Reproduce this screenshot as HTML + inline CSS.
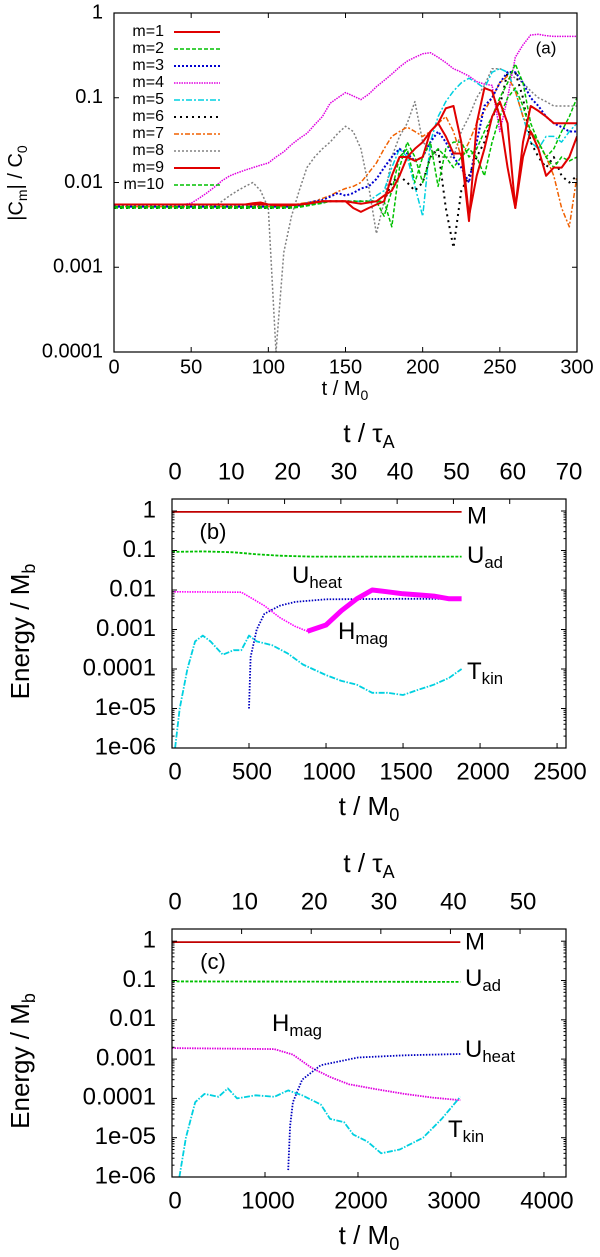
<!DOCTYPE html>
<html><head><meta charset="utf-8">
<style>
html,body{margin:0;padding:0;background:#fff;}
svg{display:block;font-family:"Liberation Sans",sans-serif;}
</style></head>
<body>
<svg id="fig" width="600" height="1257" viewBox="0 0 600 1257" xmlns="http://www.w3.org/2000/svg"></svg>
<script>
// ---------- Panel (a) data ----------
const tA = [];for(let i=0;i<=60;i++){tA.push(i*5);}
const m1 = [0.0055,0.0055,0.0055,0.0055,0.0055,0.0055,0.0055,0.0055,0.0055,0.0055,0.0055,0.0055,0.0055,0.0055,0.0055,0.0055,0.0055,0.0055,0.0057,0.0058,0.0055,0.0054,0.0054,0.0054,0.0055,0.0056,0.0058,0.006,0.006,0.006,0.006,0.005,0.0045,0.005,0.0055,0.006,0.012,0.02,0.02,0.018,0.02,0.04,0.05,0.035,0.022,0.022,0.0035,0.05,0.13,0.12,0.06,0.015,0.005,0.03,0.08,0.07,0.06,0.05,0.05,0.05,0.05];
const m2 = [0.0052,0.0052,0.0052,0.0052,0.0052,0.0052,0.0052,0.0052,0.0052,0.0052,0.0052,0.0052,0.0052,0.0052,0.0052,0.0052,0.0052,0.0052,0.0052,0.0052,0.0052,0.0052,0.0052,0.0052,0.0052,0.0054,0.0056,0.0058,0.006,0.006,0.006,0.006,0.006,0.006,0.006,0.004,0.008,0.02,0.025,0.01,0.02,0.03,0.009,0.025,0.03,0.03,0.02,0.025,0.04,0.06,0.1,0.15,0.25,0.15,0.05,0.03,0.02,0.025,0.04,0.06,0.1];
const m3 = [0.0052,0.0052,0.0052,0.0052,0.0052,0.0052,0.0052,0.0052,0.0052,0.0052,0.0052,0.0052,0.0052,0.0052,0.0052,0.0052,0.0052,0.0052,0.0052,0.0052,0.0052,0.0052,0.0052,0.0052,0.0054,0.0057,0.006,0.0062,0.0068,0.0075,0.007,0.0075,0.0085,0.009,0.011,0.015,0.02,0.025,0.022,0.018,0.02,0.03,0.04,0.03,0.02,0.015,0.01,0.03,0.08,0.1,0.15,0.2,0.2,0.15,0.1,0.08,0.06,0.05,0.045,0.04,0.04];
const m4 = [0.0055,0.0055,0.0055,0.0055,0.0055,0.0055,0.0055,0.0055,0.0055,0.0055,0.0057,0.0065,0.0075,0.0088,0.0105,0.012,0.013,0.014,0.015,0.016,0.017,0.02,0.023,0.028,0.033,0.038,0.048,0.06,0.086,0.1,0.115,0.105,0.095,0.11,0.135,0.16,0.19,0.23,0.27,0.3,0.33,0.34,0.3,0.26,0.22,0.2,0.18,0.155,0.145,0.14,0.04,0.1,0.3,0.42,0.55,0.56,0.54,0.53,0.53,0.53,0.53];
const m5 = [0.0052,0.0052,0.0052,0.0052,0.0052,0.0052,0.0052,0.0052,0.0052,0.0052,0.0052,0.0052,0.0052,0.0052,0.0052,0.0052,0.0052,0.0052,0.0052,0.0052,0.0052,0.0052,0.0052,0.0052,0.0053,0.0055,0.0057,0.0058,0.006,0.006,0.006,0.006,0.006,0.006,0.007,0.008,0.015,0.025,0.02,0.009,0.004,0.03,0.06,0.09,0.12,0.15,0.17,0.15,0.13,0.2,0.22,0.2,0.12,0.06,0.03,0.025,0.035,0.035,0.03,0.04,0.05];
const m6 = [0.005,0.005,0.005,0.005,0.005,0.005,0.005,0.005,0.005,0.005,0.005,0.005,0.005,0.005,0.005,0.005,0.005,0.005,0.005,0.005,0.005,0.005,0.005,0.005,0.0052,0.0054,0.0056,0.0058,0.006,0.006,0.006,0.006,0.006,0.006,0.006,0.006,0.01,0.012,0.01,0.008,0.01,0.02,0.025,0.005,0.0017,0.008,0.012,0.02,0.03,0.06,0.08,0.2,0.2,0.1,0.03,0.02,0.015,0.02,0.012,0.01,0.012];
const m7 = [0.0052,0.0052,0.0052,0.0052,0.0052,0.0052,0.0052,0.0052,0.0052,0.0052,0.0052,0.0052,0.0052,0.0052,0.0052,0.0052,0.0052,0.0052,0.0052,0.0052,0.0052,0.0052,0.0052,0.0054,0.0056,0.0058,0.006,0.0065,0.007,0.0078,0.0085,0.009,0.01,0.013,0.017,0.025,0.035,0.04,0.045,0.04,0.035,0.04,0.05,0.06,0.04,0.02,0.03,0.05,0.07,0.1,0.15,0.18,0.12,0.06,0.04,0.03,0.02,0.012,0.005,0.003,0.012];
const m8 = [0.0052,0.0052,0.0052,0.0052,0.0052,0.0052,0.0052,0.0052,0.0052,0.0052,0.0052,0.0052,0.0052,0.0052,0.006,0.007,0.008,0.009,0.01,0.008,0.005,0.0001,0.0015,0.004,0.008,0.015,0.02,0.025,0.03,0.038,0.046,0.04,0.025,0.009,0.0025,0.006,0.02,0.035,0.05,0.09,0.03,0.025,0.02,0.02,0.02,0.04,0.06,0.1,0.14,0.22,0.22,0.2,0.17,0.15,0.12,0.1,0.09,0.08,0.08,0.08,0.08];
const m9 = [0.0055,0.0055,0.0055,0.0055,0.0055,0.0055,0.0055,0.0055,0.0055,0.0055,0.0055,0.0055,0.0055,0.0055,0.0055,0.0055,0.0055,0.0055,0.0055,0.0055,0.0055,0.0055,0.0055,0.0055,0.0055,0.0056,0.0058,0.006,0.006,0.006,0.006,0.0058,0.0056,0.0058,0.006,0.007,0.008,0.012,0.02,0.025,0.03,0.04,0.05,0.075,0.08,0.03,0.004,0.012,0.025,0.06,0.09,0.05,0.005,0.02,0.04,0.025,0.012,0.015,0.015,0.02,0.035];
const m10 = [0.005,0.005,0.005,0.005,0.005,0.005,0.005,0.005,0.005,0.005,0.005,0.005,0.005,0.005,0.005,0.005,0.005,0.005,0.005,0.005,0.005,0.005,0.005,0.005,0.0051,0.0053,0.0055,0.0057,0.006,0.006,0.006,0.006,0.006,0.006,0.006,0.006,0.003,0.015,0.03,0.02,0.01,0.02,0.025,0.02,0.015,0.02,0.025,0.02,0.012,0.03,0.06,0.1,0.13,0.08,0.04,0.03,0.02,0.015,0.02,0.018,0.02];
const aXTicks = [0,50,100,150,200,250,300];
const aYTicks = ["1","0.1","0.01","0.001","0.0001"];
const legendLabels = ["m=1","m=2","m=3","m=4","m=5","m=6","m=7","m=8","m=9","m=10"];

// ---------- Panel (b) data ----------
const bT_M = [0,1880];const bM = [0.95,0.95];
const bT_U = [0,200,400,550,700,900,1880];const bUad = [0.092,0.095,0.09,0.08,0.074,0.07,0.07];
const bT_H = [0,450,600,700,800,880,1000,1100,1200,1300,1400,1500,1600,1700,1800,1880];
const bHmag = [0.009,0.0088,0.004,0.002,0.0012,0.0009,0.0013,0.003,0.006,0.01,0.009,0.008,0.0075,0.007,0.006,0.006];
const bT_Hn = [880,1000,1100,1200,1300,1400,1500,1600,1700,1800,1880];
const bHmagNoisy = [0.0009,0.0013,0.003,0.006,0.01,0.009,0.008,0.0075,0.007,0.006,0.006];
const bT_Q = [500,510,550,600,700,800,1000,1500,1880];const bUheat = [1e-5,2e-4,1e-3,2.5e-3,4e-3,5e-3,5.8e-3,6e-3,6e-3];
const bT_K = [20,50,100,150,200,250,330,400,450,500,550,650,750,850,1000,1100,1200,1300,1400,1500,1600,1700,1800,1880];
const bTkin = [1e-6,1e-5,1e-4,5e-4,7e-4,5e-4,2.3e-4,3e-4,3e-4,7e-4,5e-4,4e-4,2.5e-4,1.3e-4,7e-5,5e-5,4e-5,2.5e-5,2.5e-5,2.2e-5,3e-5,4e-5,6e-5,1e-4];
const bXTicks = [0,500,1000,1500,2000,2500];const bTopTicks = [0,10,20,30,40,50,60,70];

// ---------- Panel (c) data ----------
const cT_M = [0,3100];const cM = [0.95,0.95];
const cT_U = [0,3100];const cUad = [0.095,0.092];
const cT_H = [0,1100,1300,1500,1700,1900,2200,2500,2800,3100];
const cHmag = [0.0019,0.0018,0.0013,6e-4,3.5e-4,2.3e-4,1.7e-4,1.3e-4,1.05e-4,9e-5];
const cT_Q = [1250,1270,1300,1400,1600,2000,2500,3100];const cUheat = [1.5e-6,2e-5,8e-5,3e-4,7e-4,1.1e-3,1.25e-3,1.35e-3];
const cT_K = [80,150,250,350,500,600,700,900,1100,1250,1400,1600,1700,1850,1950,2100,2250,2450,2700,2900,3100];
const cTkin = [1e-6,1e-5,8e-5,1.3e-4,1.1e-4,1.8e-4,1e-4,1.2e-4,1.1e-4,1.6e-4,1.2e-4,7e-5,3e-5,2.5e-5,1.2e-5,8e-6,4e-6,5e-6,1e-5,3e-5,1.1e-4];
const cXTicks = [0,1000,2000,3000,4000];const cTopTicks = [0,10,20,30,40,50];
const eYTicks = ["1","0.1","0.01","0.001","0.0001","1e-05","1e-06"];

const NS="http://www.w3.org/2000/svg";
const fig=document.getElementById('fig');
function el(tag,attrs,parent){const e=document.createElementNS(NS,tag);for(const k in attrs)e.setAttribute(k,attrs[k]);(parent||fig).appendChild(e);return e;}
function txt(x,y,s,size,anchor,parent){const t=el('text',{x:x,y:y,'font-size':size,'text-anchor':anchor||'middle','dominant-baseline':'middle',fill:'#000'},parent);t.textContent=s;return t;}
function sub(t,main,subs,size){t.textContent='';const a=document.createElementNS(NS,'tspan');a.textContent=main;t.appendChild(a);const b=document.createElementNS(NS,'tspan');b.setAttribute('font-size',size*0.7);b.setAttribute('dy',size*0.3);b.textContent=subs;t.appendChild(b);}
function line(xs,ys,sx,sy,style,g){let d='';for(let i=0;i<xs.length;i++){const X=sx(xs[i]),Y=sy(ys[i]);d+=(i?'L':'M')+X.toFixed(1)+' '+Y.toFixed(1);}return el('path',Object.assign({d:d,fill:'none','stroke-linejoin':'round'},style),g);}

// ===== Panel A =====
const gA=el('g',{});


const aL=114,aR=577,aT=13,aB=352;
const axA=v=>aL+(v-0)/(300-0)*(aR-aL);
const ayA=v=>aB-(Math.log10(v)+4)/4*(aB-aT);
const clipA=el('clipPath',{id:'clipA'},gA);el('rect',{x:aL,y:aT,width:aR-aL,height:aB-aT},clipA);
const seriesA=[m1,m2,m3,m4,m5,m6,m7,m8,m9,m10];
const styles=[
 {stroke:'#e00000','stroke-width':2},
 {stroke:'#00c000','stroke-width':1.5,'stroke-dasharray':'4 2'},
 {stroke:'#0000d0','stroke-width':2,'stroke-dasharray':'2 2'},
 {stroke:'#e000e0','stroke-width':1.5,'stroke-dasharray':'1.5 1'},
 {stroke:'#00d0e0','stroke-width':1.5,'stroke-dasharray':'6 2 2 2'},
 {stroke:'#000','stroke-width':2,'stroke-dasharray':'2 4'},
 {stroke:'#f06000','stroke-width':1.5,'stroke-dasharray':'5 2 2 2'},
 {stroke:'#808080','stroke-width':1.5,'stroke-dasharray':'2 2'},
 {stroke:'#e00000','stroke-width':2},
 {stroke:'#00c000','stroke-width':1.5,'stroke-dasharray':'4 2'}];
const gAL=el('g',{'clip-path':'url(#clipA)'},gA);
const drawOrder=[7,3,4,5,6,2,1,9,0,8];
drawOrder.forEach(i=>{const p=line(tA,seriesA[i],axA,ayA,styles[i],gAL);

});
function frame(g,L,R,T,B){const r=el('rect',{x:L,y:T,width:R-L,height:B-T,fill:'none',stroke:'#000','stroke-width':1.2},g);

}
frame(gA,aL,aR,aT,aB);
aXTicks.forEach(v=>{const x=axA(v);el('line',{x1:x,y1:aB,x2:x,y2:aB-5,stroke:'#000'},gA);el('line',{x1:x,y1:aT,x2:x,y2:aT+5,stroke:'#000'},gA);
const t=txt(x,368,String(v),20,'middle',gA);

});
aYTicks.forEach((s,i)=>{const y=ayA(Math.pow(10,-i));el('line',{x1:aL,y1:y,x2:aL+5,y2:y,stroke:'#000'},gA);el('line',{x1:aR,y1:y,x2:aR-5,y2:y,stroke:'#000'},gA);
const t=txt(103,y,s,20,'end',gA);

});
const axTa=txt(345,390,'',20,'middle',gA);sub(axTa,'t / M','0',20);


const ayTa=el('text',{x:0,y:0,'font-size':20,'text-anchor':'middle','dominant-baseline':'middle',transform:'translate(17,183) rotate(-90)'},gA);
ayTa.innerHTML='|C<tspan font-size="14" dy="6">m</tspan><tspan dy="-6">| / C</tspan><tspan font-size="14" dy="6">0</tspan>';


const la=txt(546,49,'(a)',17,'middle',gA);


legendLabels.forEach((s,i)=>{const y=32+i*17;
const g=el('g',{},gA);


txt(164,y,s,16,'end',g);el('line',Object.assign({x1:174,y1:y,x2:220,y2:y},styles[i]),g);});

// ===== Energy panels =====
function energyPanel(name,T,B,xmax,topMax,xTicks,topTicks,series,labels,letter,ys){
 const g=el('g',{});
 
 
 const L=172,R=566;const dec=ys;const y1=T+ (B-T) - 6*dec;
 const ax=v=>L+v/xmax*(R-L);
 const ay=v=>y1-Math.log10(v)*dec;
 const cid='clip'+letter;const cp=el('clipPath',{id:cid},g);el('rect',{x:L,y:T,width:R-L,height:B-T},cp);
 const gl=el('g',{'clip-path':'url(#'+cid+')'},g);
 series.forEach(s=>{const p=line(s.t,s.v,ax,ay,s.style,gl);
 
 });
 frame(g,L,R,T,B);
 xTicks.forEach(v=>{const x=ax(v);el('line',{x1:x,y1:B,x2:x,y2:B-5,stroke:'#000'},g);
 const t=txt(x+3,B+25,String(v),24,'middle',g);
 
 });
 topTicks.forEach(v=>{const x=L+v/topMax*(R-L);el('line',{x1:x,y1:T,x2:x,y2:T+5,stroke:'#000'},g);
 const t=txt(x+3,T-26,String(v),24,'middle',g);
 
 });
 eYTicks.forEach((s,i)=>{const y=ay(Math.pow(10,-i));el('line',{x1:L,y1:y,x2:L+5,y2:y,stroke:'#000'},g);el('line',{x1:R,y1:y,x2:R-5,y2:y,stroke:'#000'},g);
 for(let k=2;k<10&&i<6;k++){const yy=ay(Math.pow(10,-i-1)*k);el('line',{x1:L,y1:yy,x2:L+2.5,y2:yy,stroke:'#000'},g);el('line',{x1:R,y1:yy,x2:R-2.5,y2:yy,stroke:'#000'},g);}
 const t=txt(156,y,s,24,'end',g);
 
 });
 const xt=txt(369,B+60,'',26,'middle',g);sub(xt,'t / M','0',26);
 
 
 const tt=el('text',{x:369,y:T-64,'font-size':26,'text-anchor':'middle','dominant-baseline':'middle'},g);
 tt.innerHTML='t / τ<tspan font-size="18" dy="8">A</tspan>';
 
 
 const yt=el('text',{x:0,y:0,'font-size':26,'text-anchor':'middle','dominant-baseline':'middle',transform:'translate(22,'+((T+B)/2+8)+') rotate(-90)'},g);
 yt.innerHTML='Energy / M<tspan font-size="18" dy="8">b</tspan>';
 
 
 labels.forEach(l=>{const t=txt(l.x,l.y,'',24,'start',g);if(l.s)sub(t,l.m,l.s,24);else t.textContent=l.m;
 
 });
 const pl=txt(213,T+34,'('+letter.toLowerCase()+')',22,'middle',g);
 
 
}
const sM={stroke:'#c00000','stroke-width':1.8};
const sU={stroke:'#00c000','stroke-width':1.8,'stroke-dasharray':'3 1.5'};
const sH={stroke:'#e000e0','stroke-width':1.8,'stroke-dasharray':'1.5 1'};
const sHb={stroke:'#ff00ff','stroke-width':1.6,'stroke-dasharray':'1.5 1'};
const sHn={stroke:'#ff00ff','stroke-width':5};
const sQ={stroke:'#0000c0','stroke-width':1.8,'stroke-dasharray':'1.5 1.5'};
const sK={stroke:'#00d0e0','stroke-width':1.8,'stroke-dasharray':'6 1.5 1.5 1.5'};
energyPanel('panel-b-chart',499,748,2558,70,bXTicks,bTopTicks,[
 {t:bT_M,v:bM,style:sM,name:'series-M'},{t:bT_U,v:bUad,style:sU,name:'series-Uad'},
 {t:bT_Q,v:bUheat,style:sQ,name:'series-Uheat'},
 {t:bT_H,v:bHmag,style:sHb,name:'series-Hmag'},{t:bT_Hn,v:bHmagNoisy,style:sHn,name:'series-Hmag-noise-band'},
 {t:bT_K,v:bTkin,style:sK,name:'series-Tkin'}],
 [{x:467,y:517,m:'M'},{x:467,y:557,m:'U',s:'ad'},{x:292,y:577,m:'U',s:'heat'},{x:338,y:633,m:'H',s:'mag'},{x:467,y:673,m:'T',s:'kin'}],'B',39.5);
energyPanel('panel-c-chart',929,1177,4237,56.6,cXTicks,cTopTicks,[
 {t:cT_M,v:cM,style:sM,name:'series-M'},{t:cT_U,v:cUad,style:sU,name:'series-Uad'},
 {t:cT_H,v:cHmag,style:sH,name:'series-Hmag'},{t:cT_Q,v:cUheat,style:sQ,name:'series-Uheat'},
 {t:cT_K,v:cTkin,style:sK,name:'series-Tkin'}],
 [{x:465,y:943,m:'M'},{x:465,y:980,m:'U',s:'ad'},{x:272,y:1025,m:'H',s:'mag'},{x:465,y:1051,m:'U',s:'heat'},{x:448,y:1131,m:'T',s:'kin'}],'C',39.3);
</script>
</body></html>
